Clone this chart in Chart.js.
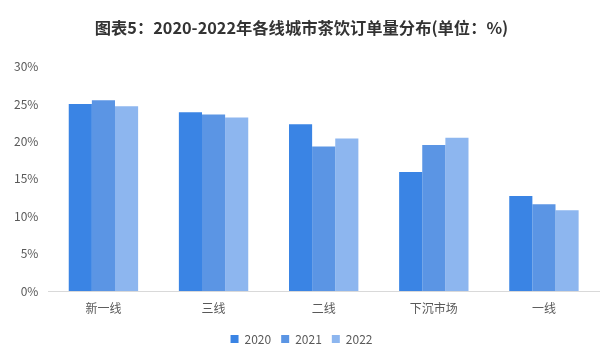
<!DOCTYPE html>
<html>
<head>
<meta charset="utf-8">
<script src="https://cdn.jsdelivr.net/npm/chart.js@4/dist/chart.umd.min.js"></script>
<style>
  html, body { margin: 0; padding: 0; background: #fff; }
  #wrap { width: 600px; height: 348px; position: relative; }
</style>
</head>
<body>
<div id="wrap"><canvas id="cityChart"></canvas></div>
<script>
const categories = ['新一线', '三线', '二线', '下沉市场', '一线'];
const seriesNames = ['2020', '2021', '2022'];
const values2020 = [25.0, 23.9, 22.3, 15.9, 12.7];
const values2021 = [25.5, 23.6, 19.3, 19.5, 11.6];
const values2022 = [24.7, 23.2, 20.4, 20.5, 10.8];
const yTicks = [0, 5, 10, 15, 20, 25, 30];

const colors = ['#3a84e4', '#5b95e4', '#8db6ef'];
const font = "'Noto Sans CJK SC', 'Noto Sans', sans-serif";

const ctx = document.getElementById('cityChart');
new Chart(ctx, {
    type: 'bar',
    data: {
        labels: categories,
        datasets: [values2020, values2021, values2022].map((vals, i) => ({
            label: seriesNames[i],
            data: vals,
            backgroundColor: colors[i],
            borderWidth: 0,
            barPercentage: 1,
            categoryPercentage: 0.63
        }))
    },
    options: {
        responsive: true,
        maintainAspectRatio: false,
        animation: false,
        // legend sits close to the bottom edge
        layout: { padding: { left: 4, right: 1, top: 4, bottom: -7 } },
        plugins: {
            title: {
                display: true,
                text: '图表5：2020-2022年各线城市茶饮订单量分布(单位：%)',
                color: '#333',
                font: { family: font, size: 16.3, weight: 'bold' },
                padding: { top: 14, bottom: 29 }
            },
            legend: {
                position: 'bottom',
                labels: {
                    boxWidth: 8,
                    boxHeight: 8,
                    padding: 10,
                    color: '#595959',
                    font: { family: font, size: 12 }
                }
            },
            tooltip: { enabled: false }
        },
        scales: {
            x: {
                grid: { display: false, drawTicks: false },
                border: { color: '#d9d9d9' },
                ticks: {
                    color: '#595959',
                    padding: 10,
                    font: { family: font, size: 12 }
                },
                afterFit: scale => { scale.height = 32; }
            },
            y: {
                min: 0,
                max: 30,
                afterBuildTicks: axis => {
                    axis.ticks = yTicks.map(v => ({ value: v }));
                },
                grid: { display: false, drawTicks: false },
                border: { display: false },
                ticks: {
                    color: '#595959',
                    padding: 10,
                    font: { family: font, size: 12 },
                    callback: v => v + '%'
                }
            }
        }
    }
});
</script>
</body>
</html>
